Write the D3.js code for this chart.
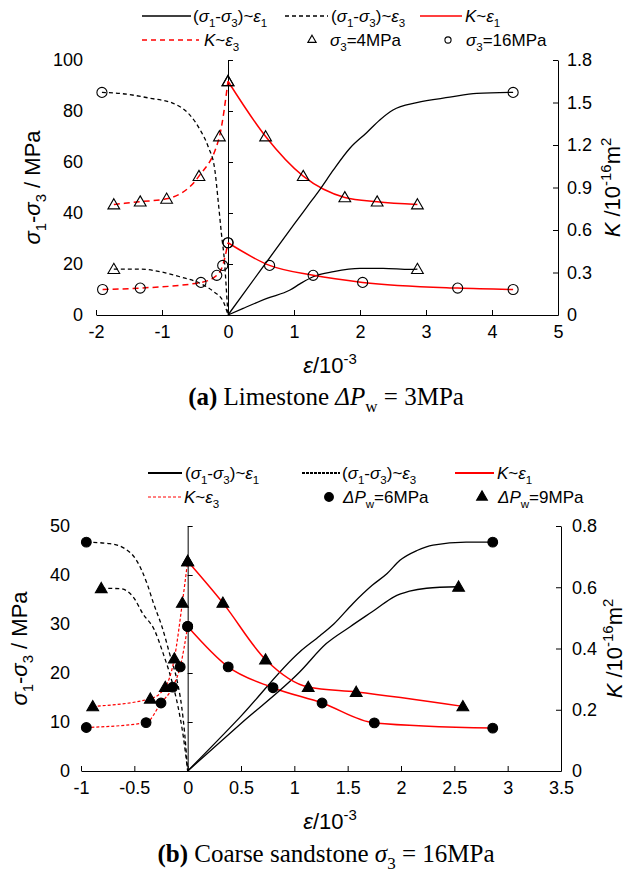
<!DOCTYPE html>
<html>
<head>
<meta charset="utf-8">
<script src="https://cdn.jsdelivr.net/npm/d3@7/dist/d3.min.js"></script>
<style>
  body { margin: 0; background: #fff; }
  svg text { font-family: "Liberation Sans", Arial, sans-serif; fill: #000; }
  text.cap { font-family: "Liberation Serif", "Times New Roman", serif; }
</style>
</head>
<body>
<script>
// ---------- (a) Limestone, ΔPw = 3MPa ----------
var xTicksA = [-2, -1, 0, 1, 2, 3, 4, 5];
var yTicksA = [0, 20, 40, 60, 80, 100];
var kTicksA = [0, 0.3, 0.6, 0.9, 1.2, 1.5, 1.8];

// σ3 = 4MPa (triangles)
var a4Dev1 = [[0,0],[0.23,2.6],[0.59,6.5],[0.94,9.8],[1.09,12.2],[1.29,15.0],[1.6,17.0],[2.0,18.3],[2.35,18.3],[2.76,17.9],[2.87,18.0]];
var a4Dev3 = [[-1.73,18.0],[-1.33,18.0],[-1.03,17.0],[-0.73,15.0],[-0.42,12.4],[-0.22,9.2],[-0.07,5.2],[0,0]];
var a4K1 = [[0,1.65],[0.57,1.26],[1.14,0.98],[1.77,0.83],[2.26,0.80],[2.87,0.78]];
var a4K3 = [[-1.73,0.78],[-1.33,0.80],[-0.93,0.82],[-0.44,0.98],[-0.13,1.26],[0,1.65]];

// σ3 = 16MPa (circles)
var a16Dev1 = [[0,0],[0.5,17.8],[1.0,35.5],[1.2,42.5],[1.4,49.5],[1.6,57],[1.85,65.5],[2.1,71.5],[2.3,76.5],[2.5,80.4],[2.86,83.3],[3.36,85.4],[3.77,86.9],[4.32,87.3]];
var a16Dev3 = [[-1.91,87.3],[-1.64,86.9],[-1.18,85],[-0.83,83],[-0.58,78.5],[-0.42,72.5],[-0.30,66],[-0.2,57],[-0.15,45],[-0.1,32],[-0.05,20],[-0.02,8],[0,0]];
var a16K1 = [[0,0.51],[0.63,0.35],[1.29,0.28],[2.04,0.23],[3.48,0.19],[4.32,0.18]];
var a16K3 = [[-1.90,0.18],[-1.33,0.19],[-0.41,0.23],[-0.17,0.28],[-0.08,0.35],[0,0.51]];

// ---------- (b) Coarse sandstone, σ3 = 16MPa ----------
var xTicksB = [-1, -0.5, 0, 0.5, 1, 1.5, 2, 2.5, 3, 3.5];
var yTicksB = [0, 10, 20, 30, 40, 50];
var kTicksB = [0, 0.2, 0.4, 0.6, 0.8];

// ΔPw = 6MPa (filled circles)
var b6Dev1 = [[0,0],[0.5,11.2],[1.05,24.3],[1.24,27.6],[1.37,30.0],[1.55,34.2],[1.73,37.9],[1.87,40.3],[1.99,43],[2.15,45],[2.3,46.1],[2.61,46.7],[2.86,46.7]];
var b6Dev3 = [[-0.95,46.7],[-0.73,46.4],[-0.59,45.4],[-0.48,43],[-0.38,38.2],[-0.32,34.2],[-0.24,29.4],[-0.17,24],[-0.10,18.5],[-0.056,13.1],[-0.025,6.9],[0,0]];
var b6K1 = [[0,0.472],[0.38,0.340],[0.80,0.272],[1.26,0.222],[1.75,0.157],[2.86,0.140]];
var b6K3 = [[-0.95,0.142],[-0.39,0.158],[-0.25,0.222],[-0.14,0.274],[-0.07,0.340],[0,0.472]];

// ΔPw = 9MPa (filled triangles)
var b9Dev1 = [[0,0],[0.5,9.7],[1.05,20.2],[1.30,26],[1.52,29.4],[1.77,33.1],[1.93,35.5],[2.08,36.7],[2.24,37.3],[2.54,37.6]];
var b9Dev3 = [[-0.81,37.3],[-0.63,37.2],[-0.51,35.5],[-0.42,32.1],[-0.31,28.7],[-0.23,24],[-0.15,18.5],[-0.09,13.1],[-0.04,6.9],[0,0]];
var b9K1 = [[0,0.685],[0.33,0.549],[0.73,0.364],[1.13,0.274],[1.58,0.258],[2.58,0.211]];
var b9K3 = [[-0.89,0.211],[-0.35,0.236],[-0.21,0.274],[-0.125,0.367],[-0.05,0.549],[0,0.685]];

var width = 634, height = 876;
var svg = d3.select("body").append("svg")
  .attr("width", width)
  .attr("height", height);

var fmt = function (d) { return String(+d.toFixed(2)); };

// text with italic / subscript / superscript pieces
function richText(sel, parts, size) {
  var off = 0;
  parts.forEach(function (p) {
    var st = p[1] || "";
    var shift = st.indexOf("_") >= 0 ? size * 0.28 : (st.indexOf("^") >= 0 ? -size * 0.4 : 0);
    var t = sel.append("tspan").attr("dy", shift - off).text(p[0]);
    if (st.indexOf("i") >= 0) t.attr("font-style", "italic");
    if (st.indexOf("b") >= 0) t.attr("font-weight", "bold");
    if (shift !== 0) t.attr("font-size", size * 0.68);
    off = shift;
  });
}

var devE1 = [["(",""],["σ","i"],["1","_"],["-",""],["σ","i"],["3","_"],[")~",""],["ε","i"],["1","_"]];
var devE3 = [["(",""],["σ","i"],["1","_"],["-",""],["σ","i"],["3","_"],[")~",""],["ε","i"],["3","_"]];
var kE1 = [["K","i"],["~",""],["ε","i"],["1","_"]];
var kE3 = [["K","i"],["~",""],["ε","i"],["3","_"]];

function marker(sel, type, filled, size) {
  var sym = type === "tri" ? d3.symbolTriangle : d3.symbolCircle;
  return sel.append("path")
    .attr("d", d3.symbol(sym, size))
    .attr("fill", filled ? "#000" : "none")
    .attr("stroke", "#000")
    .attr("stroke-width", 1.1);
}

function drawPanel(cfg) {
  var g = svg.append("g");
  var x = d3.scaleLinear().domain(cfg.xDomain).range([cfg.left, cfg.right]);
  var y = d3.scaleLinear().domain(cfg.yDomain).range([cfg.bottom, cfg.top]);
  var k = d3.scaleLinear().domain(cfg.kDomain).range([cfg.bottom, cfg.top]);

  function style(a) {
    a.attr("font-family", null).attr("font-size", null);
    a.selectAll("text").attr("font-size", 18);
    a.selectAll("line, path").attr("stroke", "#000");
  }

  // x 轴
  g.append("g")
    .attr("transform", "translate(0," + cfg.bottom + ")")
    .call(d3.axisBottom(x).tickValues(cfg.xTicks).tickFormat(fmt)
      .tickSizeInner(-5).tickSizeOuter(0).tickPadding(10))
    .call(style);

  // 左轴线画在 ε = 0 处
  g.append("g")
    .attr("transform", "translate(" + x(0) + ",0)")
    .call(d3.axisRight(y).tickValues(cfg.yTicks).tickFormat("")
      .tickSizeInner(5).tickSizeOuter(0))
    .call(style);

  // 左轴刻度文字
  g.append("g")
    .attr("transform", "translate(" + cfg.left + ",0)")
    .call(d3.axisLeft(y).tickValues(cfg.yTicks).tickFormat(fmt)
      .tickSize(0).tickPadding(cfg.leftPad))
    .call(style)
    .call(function (a) { a.select(".domain").remove(); });

  // 右轴 K
  g.append("g")
    .attr("transform", "translate(" + cfg.right + ",0)")
    .call(d3.axisRight(k).tickValues(cfg.kTicks).tickFormat(fmt)
      .tickSizeInner(-5).tickSizeOuter(0).tickPadding(cfg.rightPad))
    .call(style);

  var devLine = d3.line().x(function (d) { return x(d[0]); })
    .y(function (d) { return y(d[1]); }).curve(d3.curveMonotoneX);
  var kLine = d3.line().x(function (d) { return x(d[0]); })
    .y(function (d) { return k(d[1]); }).curve(d3.curveMonotoneX);

  cfg.groups.forEach(function (s) {
    g.append("path").attr("d", devLine(s.dev1))
      .attr("fill", "none").attr("stroke", "#000").attr("stroke-width", 1.3);
    g.append("path").attr("d", devLine(s.dev3))
      .attr("fill", "none").attr("stroke", "#000").attr("stroke-width", 1.3)
      .attr("stroke-dasharray", "4,3");
    g.append("path").attr("d", kLine(s.k1))
      .attr("fill", "none").attr("stroke", "#f00").attr("stroke-width", 1.5);
    g.append("path").attr("d", kLine(s.k3))
      .attr("fill", "none").attr("stroke", "#f00").attr("stroke-width", cfg.k3Width)
      .attr("stroke-dasharray", cfg.k3Dash);
  });

  cfg.groups.forEach(function (s) {
    var pts = [];
    s.k1.forEach(function (d) { pts.push([x(d[0]), k(d[1])]); });
    s.k3.forEach(function (d) { pts.push([x(d[0]), k(d[1])]); });
    var e1 = s.dev1[s.dev1.length - 1], e3 = s.dev3[0];
    pts.push([x(e1[0]), y(e1[1])]);
    pts.push([x(e3[0]), y(e3[1])]);
    pts.forEach(function (p) {
      marker(g, s.marker, cfg.filled, s.marker === "tri" ? cfg.triSize : cfg.circSize)
        .attr("transform", "translate(" + p[0] + "," + (p[1] + (s.marker === "tri" ? 1 : 0)) + ")");
    });
  });

  // 坐标轴标题
  var ly = (cfg.top + cfg.bottom) / 2;
  richText(g.append("text").attr("text-anchor", "middle").attr("font-size", 22)
    .attr("transform", "translate(" + cfg.leftTitleX + "," + ly + ") rotate(-90)")
    .attr("dy", "0.35em"),
    [["σ","i"],["1","_"],["-",""],["σ","i"],["3","_"],[" / MPa",""]], 22);
  richText(g.append("text").attr("text-anchor", "middle").attr("font-size", 22)
    .attr("transform", "translate(" + cfg.rightTitleX + "," + ly + ") rotate(-90)")
    .attr("dy", "0.35em"),
    [["K","i"],[" /10",""],["-16","^"],["m",""],["2","^"]], 22);
  richText(g.append("text").attr("text-anchor", "middle").attr("font-size", 22)
    .attr("x", cfg.xTitleX).attr("y", cfg.xTitleY),
    [["ε","i"],["/10",""],["-3","^"]], 22);

  // 图题
  richText(g.append("text").attr("class", "cap").attr("text-anchor", "middle")
    .attr("font-size", 25).attr("x", 326).attr("y", cfg.capY),
    cfg.caption, 25);

  // 图例
  cfg.legend.forEach(function (it) {
    if (it.kind === "line") {
      g.append("line").attr("x1", it.x1).attr("x2", it.x2)
        .attr("y1", it.y).attr("y2", it.y)
        .attr("stroke", it.color).attr("stroke-width", it.w)
        .attr("stroke-dasharray", it.dash || null);
    } else {
      marker(g, it.kind, cfg.filled, it.size)
        .attr("transform", "translate(" + it.x1 + "," + it.y + ")");
    }
    richText(g.append("text").attr("font-size", 17)
      .attr("x", it.tx).attr("y", it.y + 6), it.label, 17);
  });
}

drawPanel({
  xDomain: [-2, 5], yDomain: [0, 100], kDomain: [0, 1.8],
  xTicks: xTicksA, yTicks: yTicksA, kTicks: kTicksA,
  left: 96, right: 558, top: 60, bottom: 315,
  leftPad: 13, rightPad: 9,
  leftTitleX: 40, rightTitleX: 620, xTitleX: 330, xTitleY: 373, capY: 405,
  filled: false, triSize: 60, circSize: 80,
  k3Dash: "6,4", k3Width: 1.5,
  groups: [
    { dev1: a4Dev1, dev3: a4Dev3, k1: a4K1, k3: a4K3, marker: "tri" },
    { dev1: a16Dev1, dev3: a16Dev3, k1: a16K1, k3: a16K3, marker: "circ" }
  ],
  caption: [["(a)","b"],[" Limestone ",""],["ΔP","i"],["w","_"],[" = 3MPa",""]],
  legend: [
    { kind: "line", x1: 142, x2: 191, y: 16, color: "#000", w: 1.3, tx: 193, label: devE1 },
    { kind: "line", x1: 285, x2: 328, y: 16, color: "#000", w: 1.3, dash: "4,3", tx: 331, label: devE3 },
    { kind: "line", x1: 420, x2: 462, y: 16, color: "#f00", w: 1.5, tx: 465, label: kE1 },
    { kind: "line", x1: 142, x2: 199, y: 40, color: "#f00", w: 1.5, dash: "5,4", tx: 204, label: kE3 },
    { kind: "tri", x1: 312, y: 40, size: 30, tx: 330, label: [["σ","i"],["3","_"],["=4MPa",""]] },
    { kind: "circ", x1: 448, y: 40, size: 30, tx: 466, label: [["σ","i"],["3","_"],["=16MPa",""]] }
  ]
});

drawPanel({
  xDomain: [-1, 3.5], yDomain: [0, 50], kDomain: [0, 0.8],
  xTicks: xTicksB, yTicks: yTicksB, kTicks: kTicksB,
  left: 81, right: 561, top: 526, bottom: 771,
  leftPad: 11, rightPad: 11,
  leftTitleX: 27, rightTitleX: 622, xTitleX: 330, xTitleY: 829, capY: 862,
  filled: true, triSize: 60, circSize: 75,
  k3Dash: "3,2", k3Width: 1.2,
  groups: [
    { dev1: b6Dev1, dev3: b6Dev3, k1: b6K1, k3: b6K3, marker: "circ" },
    { dev1: b9Dev1, dev3: b9Dev3, k1: b9K1, k3: b9K3, marker: "tri" }
  ],
  caption: [["(b)","b"],[" Coarse sandstone ",""],["σ","i"],["3","_"],[" = 16MPa",""]],
  legend: [
    { kind: "line", x1: 148, x2: 182, y: 473, color: "#000", w: 2, tx: 185, label: devE1 },
    { kind: "line", x1: 302, x2: 340, y: 473, color: "#000", w: 2, dash: "3,1", tx: 342, label: devE3 },
    { kind: "line", x1: 455, x2: 494, y: 473, color: "#f00", w: 2, tx: 497, label: kE1 },
    { kind: "line", x1: 148, x2: 181, y: 497, color: "#f00", w: 1, dash: "3,2", tx: 184, label: kE3 },
    { kind: "circ", x1: 329, y: 497, size: 60, tx: 343, label: [["ΔP","i"],["w","_"],["=6MPa",""]] },
    { kind: "tri", x1: 482, y: 497, size: 50, tx: 498, label: [["ΔP","i"],["w","_"],["=9MPa",""]] }
  ]
});
</script>
</body>
</html>
